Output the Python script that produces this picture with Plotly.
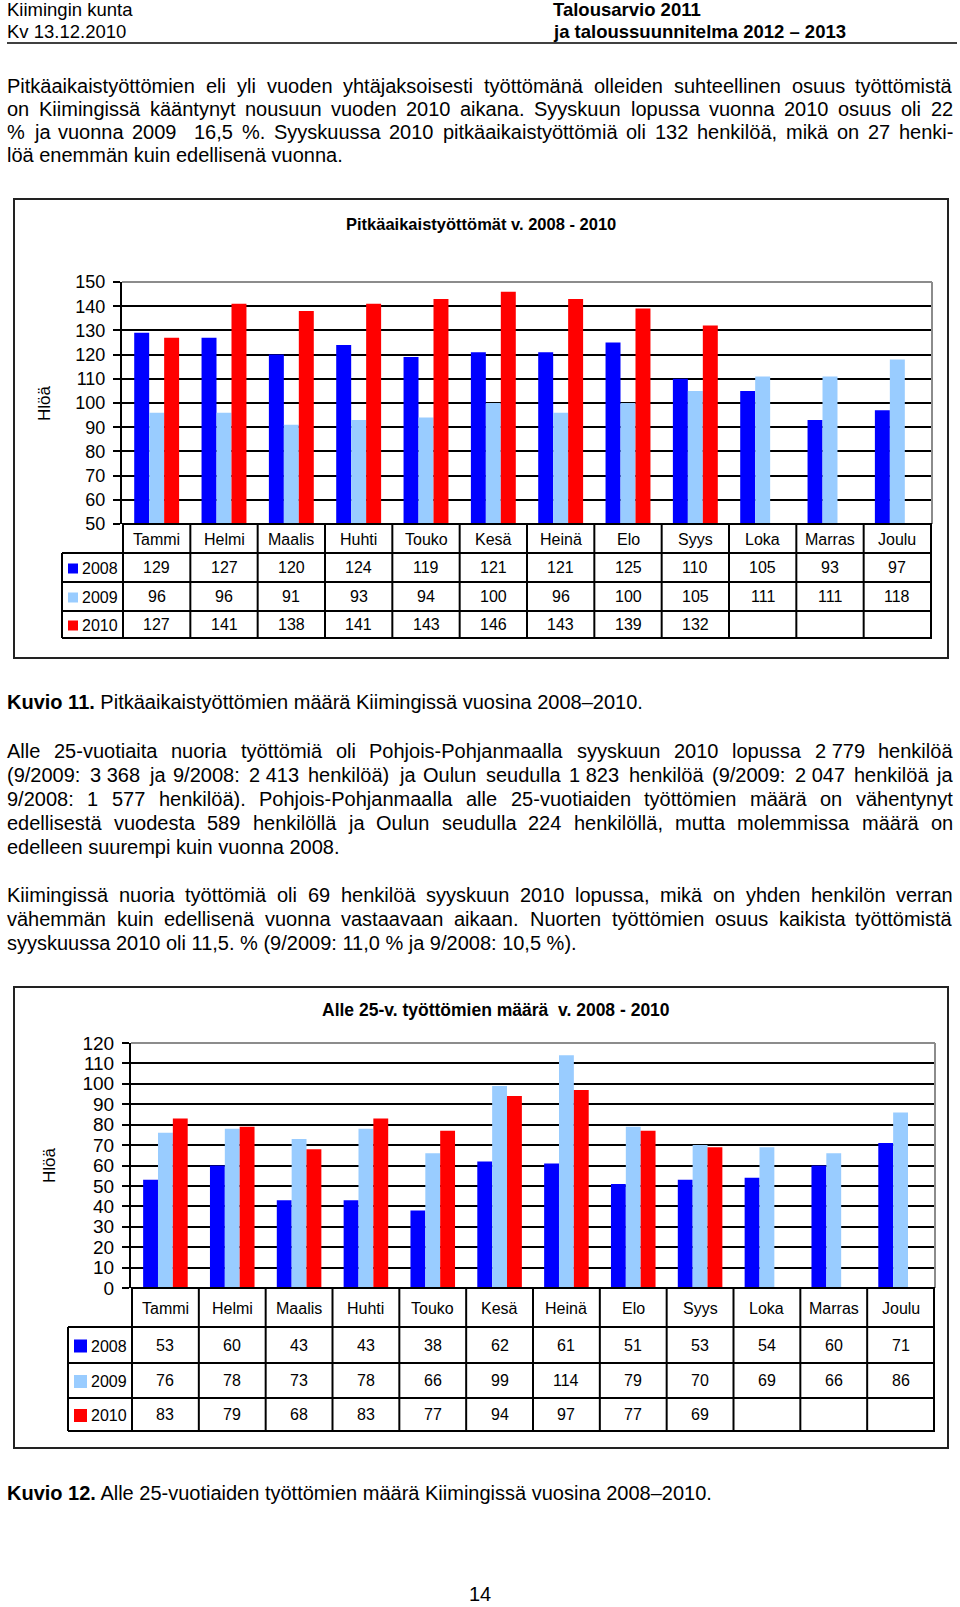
import plotly.graph_objects as go

# page size
W, H = 960, 1607

# data
months = ["Tammi", "Helmi", "Maalis", "Huhti", "Touko", "Kesä", "Heinä",
          "Elo", "Syys", "Loka", "Marras", "Joulu"]
years = ["2008", "2009", "2010"]
colors = ["#0000FF", "#99CCFF", "#FF0000"]

long_2008 = [129, 127, 120, 124, 119, 121, 121, 125, 110, 105, 93, 97]
long_2009 = [96, 96, 91, 93, 94, 100, 96, 100, 105, 111, 111, 118]
long_2010 = [127, 141, 138, 141, 143, 146, 143, 139, 132, None, None, None]

young_2008 = [53, 60, 43, 43, 38, 62, 61, 51, 53, 54, 60, 71]
young_2009 = [76, 78, 73, 78, 66, 99, 114, 79, 70, 69, 66, 86]
young_2010 = [83, 79, 68, 83, 77, 94, 97, 77, 69, None, None, None]

# page text
para1 = [
    "Pitkäaikaistyöttömien eli yli vuoden yhtäjaksoisesti työttömänä olleiden suhteellinen osuus työttömistä",
    "on Kiimingissä kääntynyt nousuun vuoden 2010 aikana. Syyskuun lopussa vuonna 2010 osuus oli 22",
    "% ja vuonna 2009  16,5 %. Syyskuussa 2010 pitkäaikaistyöttömiä oli 132 henkilöä, mikä on 27 henki-",
    "löä enemmän kuin edellisenä vuonna.",
]
para2 = [
    "Alle 25-vuotiaita nuoria työttömiä oli Pohjois-Pohjanmaalla syyskuun 2010 lopussa 2\u00a0779 henkilöä",
    "(9/2009: 3\u00a0368 ja 9/2008: 2\u00a0413 henkilöä) ja Oulun seudulla 1\u00a0823 henkilöä (9/2009: 2\u00a0047 henkilöä ja",
    "9/2008: 1 577 henkilöä). Pohjois-Pohjanmaalla alle 25-vuotiaiden työttömien määrä on vähentynyt",
    "edellisestä vuodesta 589 henkilöllä ja Oulun seudulla 224 henkilöllä, mutta molemmissa määrä on",
    "edelleen suurempi kuin vuonna 2008.",
]
para3 = [
    "Kiimingissä nuoria työttömiä oli 69 henkilöä syyskuun 2010 lopussa, mikä on yhden henkilön verran",
    "vähemmän kuin edellisenä vuonna vastaavaan aikaan. Nuorten työttömien osuus kaikista työttömistä",
    "syyskuussa 2010 oli 11,5. % (9/2009: 11,0 % ja 9/2008: 10,5 %).",
]

BODY = "Liberation Sans, Arial, Helvetica, sans-serif"
NARROW = "Liberation Sans Narrow, Arial Narrow, Liberation Sans, Arial, sans-serif"

# rough Arial widths (1/1000 em) for justifying the body text
CW = {" ": 278, "\u00a0": 278, "a": 556, "b": 556, "c": 500, "d": 556, "e": 556,
      "f": 278, "g": 556, "h": 556, "i": 222, "j": 222, "k": 500, "l": 222,
      "m": 833, "n": 556, "o": 556, "p": 556, "q": 556, "r": 333, "s": 500,
      "t": 278, "u": 556, "v": 500, "w": 722, "x": 500, "y": 500, "z": 500,
      "ä": 556, "ö": 556, "A": 667, "K": 667, "N": 722, "O": 778, "P": 667,
      "S": 667, ".": 278, ",": 278, ":": 278, "(": 333, ")": 333, "/": 278,
      "%": 889, "-": 333, "–": 556}


def text_width(s, size):
    return sum(CW.get(c, 556) for c in s) * size / 1000


fig = go.Figure()


def text(x, y, s, size, xanchor="left", family=BODY, angle=0):
    fig.add_annotation(
        x=x / W, y=1 - y / H, xref="paper", yref="paper", text=s,
        showarrow=False, xanchor=xanchor, yanchor="middle", textangle=angle,
        borderpad=0, borderwidth=0,
        font=dict(size=size, family=family, color="black"),
    )


def justify_para(lines, y0, step, size=20, left=7, right=953):
    for i, line in enumerate(lines):
        y = y0 + i * step
        if i == len(lines) - 1:
            text(left, y, line, size)
            continue
        words = line.split(" ")
        ws = [text_width(w, size) for w in words]
        gap = (right - left - sum(ws)) / (len(words) - 1)
        x = left
        for k, (w, wd) in enumerate(zip(words, ws)):
            if w:
                if k == len(words) - 1:
                    text(right, y, w, size, xanchor="right")
                else:
                    text(x, y, w, size)
            x += wd + gap


def hline(x0, x1, y, color="black", width=2):
    fig.add_shape(type="line", xref="paper", yref="paper",
                  x0=x0 / W, x1=x1 / W, y0=1 - y / H, y1=1 - y / H,
                  line=dict(color=color, width=width))


def vline(x, y0, y1, color="black", width=2, xref="paper"):
    xv = x / W if xref == "paper" else x
    fig.add_shape(type="line", xref=xref, yref="paper",
                  x0=xv, x1=xv, y0=1 - y0 / H, y1=1 - y1 / H,
                  line=dict(color=color, width=width))


def cell(xa, m, yc, s):
    fig.add_annotation(x=m, y=1 - yc / H, xref=xa, yref="paper", text=s,
                       showarrow=False, xanchor="center", yanchor="middle",
                       borderpad=0, borderwidth=0,
                       font=dict(size=16, family=NARROW, color="black"))


def chart(n, series, yrange, left, right, top, bottom, rows, leg_left,
          sq, tick_size, title, title_size, title_xy, label_xy, box):
    xa = "x" if n == 1 else "x2"
    ya = "y" if n == 1 else "y2"
    for name, vals, col in zip(years, series, colors):
        fig.add_trace(go.Bar(x=months, y=vals, name=name, marker_color=col,
                             marker_line_width=0, xaxis=xa, yaxis=ya))
    axx = dict(domain=[left / W, right / W], showticklabels=False,
               showgrid=False, showline=False, ticks="", fixedrange=True)
    axy = dict(domain=[1 - bottom / H, 1 - top / H], range=yrange, dtick=10,
               showgrid=True, gridcolor="black", gridwidth=2,
               showline=True, linecolor="black", linewidth=2,
               ticks="outside", ticklen=7, tickwidth=1.5, tickcolor="black",
               ticklabelstandoff=4, fixedrange=True,
               tickfont=dict(size=tick_size, family=BODY, color="black"))
    if n == 1:
        fig.update_layout(xaxis=axx, yaxis=axy)
    else:
        axx["anchor"] = "y2"
        axy["anchor"] = "x2"
        fig.update_layout(xaxis2=axx, yaxis2=axy)

    # plot border top/right
    hline(left, right, top, color="#8C8C8C", width=2)
    vline(right, top, bottom, color="#8C8C8C", width=2)

    # data table under the axis
    hline(left, right, rows[0])
    for r in rows[1:]:
        hline(leg_left, right, r)
    for i in range(13):
        vline(i - 0.5, rows[0], rows[-1], xref=xa)
    vline(leg_left, rows[1], rows[-1])
    for m in months:
        cell(xa, m, (rows[0] + rows[1]) / 2 + 1, m)
    for k, (name, vals, col) in enumerate(zip(years, series, colors)):
        yc = (rows[k + 1] + rows[k + 2]) / 2
        fig.add_shape(type="rect", xref="paper", yref="paper",
                      x0=(leg_left + 6) / W, x1=(leg_left + 6 + sq) / W,
                      y0=1 - (yc - sq / 2 + 1) / H, y1=1 - (yc + sq / 2 + 1) / H,
                      fillcolor=col, line_width=0)
        text(leg_left + 10 + sq, yc + 1, name, 16, family=NARROW)
        for m, v in zip(months, vals):
            if v is not None:
                cell(xa, m, yc, str(v))

    # frame, title, axis label
    fig.add_shape(type="rect", xref="paper", yref="paper",
                  x0=box[0] / W, x1=box[2] / W, y0=1 - box[1] / H, y1=1 - box[3] / H,
                  line=dict(color="#222222", width=2))
    text(title_xy[0], title_xy[1], "<b>" + title + "</b>", title_size, xanchor="center")
    text(label_xy[0], label_xy[1], "Hlöä", 17, xanchor="center", angle=-90)


# header
text(7, 10, "Kiimingin kunta", 18.5)
text(7, 31, "Kv 13.12.2010", 18.5)
text(553, 9, "<b>Talousarvio 2011</b>", 18.5)
text(553, 31, "<b>ja taloussuunnitelma 2012 – 2013</b>", 18.5)
hline(7, 957, 43, width=1.5)

justify_para(para1, 86, 23)

chart(1, [long_2008, long_2009, long_2010], [50, 150], 122, 932, 282, 524,
      [524, 553, 582, 611, 638], 62, 10, 18,
      "Pitkäaikaistyöttömät v. 2008 - 2010", 16.5, (481, 224), (45, 403),
      (14, 199, 948, 658))

text(7, 702, "<b>Kuvio 11.</b> Pitkäaikaistyöttömien määrä Kiimingissä vuosina 2008–2010.", 20)
justify_para(para2, 751, 24)
justify_para(para3, 895, 24)

chart(2, [young_2008, young_2009, young_2010], [0, 120], 131, 935, 1043, 1288,
      [1288, 1327, 1363, 1398, 1431], 68, 13, 19,
      "Alle 25-v. työttömien määrä  v. 2008 - 2010", 17.5, (496, 1010), (49, 1165),
      (14, 987, 948, 1448))

text(7, 1493, "<b>Kuvio 12.</b> Alle 25-vuotiaiden työttömien määrä Kiimingissä vuosina 2008–2010.", 20)
text(480, 1594, "14", 20, xanchor="center")

fig.update_layout(
    width=W, height=H, autosize=False,
    margin=dict(l=0, r=0, t=0, b=0, autoexpand=False),
    plot_bgcolor="white", paper_bgcolor="white",
    barmode="group", bargap=0.333, bargroupgap=0,
    showlegend=False,
)

# the page is the whole window: drop the default body margin
fig.write_html(
    "out.html",
    config={"displayModeBar": False},
    post_script="document.body.style.margin='0';document.body.style.overflow='hidden';",
)
